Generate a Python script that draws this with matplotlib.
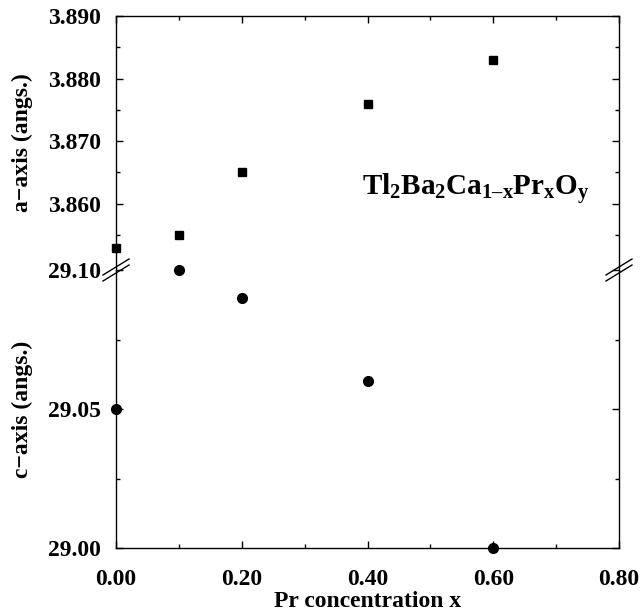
import matplotlib
matplotlib.use("Agg")
import matplotlib.pyplot as plt
from matplotlib.lines import Line2D
from matplotlib.ticker import MultipleLocator, FixedLocator

plt.rcParams["font.family"] = "Liberation Serif"
plt.rcParams["font.weight"] = "bold"
plt.rcParams["mathtext.fontset"] = "custom"
plt.rcParams["mathtext.rm"] = "Liberation Serif:bold"
plt.rcParams["mathtext.bf"] = "Liberation Serif:bold"
plt.rcParams["mathtext.it"] = "Liberation Serif:bold"

# datos
pr_a = [0.0, 0.1, 0.2, 0.4, 0.6]
eje_a = [3.8529, 3.8550, 3.8650, 3.8760, 3.8830]
pr_c = [0.0, 0.1, 0.2, 0.4, 0.6]
eje_c = [29.050, 29.100, 29.090, 29.060, 29.000]

fig = plt.figure(figsize=(6.4, 6.14), dpi=100)
izq, der = 116 / 640, 619 / 640
abajo = 1 - 548 / 614
corte = 1 - 270 / 614
arriba = 1 - 16 / 614
ax1 = fig.add_axes([izq, corte, der - izq, arriba - corte])
ax2 = fig.add_axes([izq, abajo, der - izq, corte - abajo], sharex=ax1)

ax1.plot(pr_a, eje_a, "s", color="black", markersize=6, clip_on=False)
ax2.plot(pr_c, eje_c, "o", color="black", markersize=7, clip_on=False)

ax1.set_xlim(0, 0.8)
ax1.set_ylim(3.8494, 3.890)
ax2.set_ylim(29.00, 29.10)

ax1.yaxis.set_major_locator(FixedLocator([3.860, 3.870, 3.880, 3.890]))
ax1.yaxis.set_minor_locator(FixedLocator([3.855, 3.865, 3.875, 3.885]))
ax1.set_yticklabels(["3.860", "3.870", "3.880", "3.890"])
ax2.yaxis.set_major_locator(FixedLocator([29.00, 29.05, 29.10]))
ax2.yaxis.set_minor_locator(FixedLocator([29.025, 29.075]))
ax2.set_yticklabels(["29.00", "29.05", "29.10"])
ax2.xaxis.set_major_locator(MultipleLocator(0.2))
ax2.xaxis.set_minor_locator(MultipleLocator(0.1))
ax2.set_xticks([0, 0.2, 0.4, 0.6, 0.8])
ax2.set_xticklabels(["0.00", "0.20", "0.40", "0.60", "0.80"])

ax1.spines["bottom"].set_visible(False)
ax2.spines["top"].set_visible(False)
for ax in (ax1, ax2):
    for s in ax.spines.values():
        s.set_linewidth(1.0)
    ax.tick_params(which="both", direction="in", labelsize=17, width=1)
    ax.tick_params(which="major", length=5)
    ax.tick_params(which="minor", length=3)
    ax.tick_params(axis="y", which="both", left=True, right=True, pad=11)

ax1.tick_params(axis="x", which="both", bottom=False, top=True, labelbottom=False)
ax2.tick_params(axis="x", which="both", bottom=True, top=False, pad=15)

ax1.set_ylabel("a\u2212axis (angs.)", fontsize=17, fontweight="bold")
ax2.set_ylabel("c\u2212axis (angs.)", fontsize=17, fontweight="bold")
ax1.yaxis.set_label_coords(-0.165, 0.5)
ax2.yaxis.set_label_coords(-0.165, 0.5)
ax2.set_xlabel("Pr concentration x", fontsize=17, fontweight="bold", labelpad=1)

formula = "$\\mathbf{Tl_2Ba_2Ca_{1\u2013x}Pr_xO_y}$"
ax1.text(0.942, 0.291, formula, transform=ax1.transAxes,
         fontsize=21, ha="right", va="baseline")

# marcas de corte
ancho = fig.get_figwidth() * fig.dpi
alto = fig.get_figheight() * fig.dpi
for xs in (izq, der):
    for d in (-3, 3):
        x0 = xs - 13 / ancho
        x1 = xs + 13 / ancho
        y0 = corte + (d - 8) / alto
        y1 = corte + (d + 8) / alto
        fig.add_artist(Line2D([x0, x1], [y0, y1], color="black", lw=1.0))

plt.savefig("out.png", dpi=100)
